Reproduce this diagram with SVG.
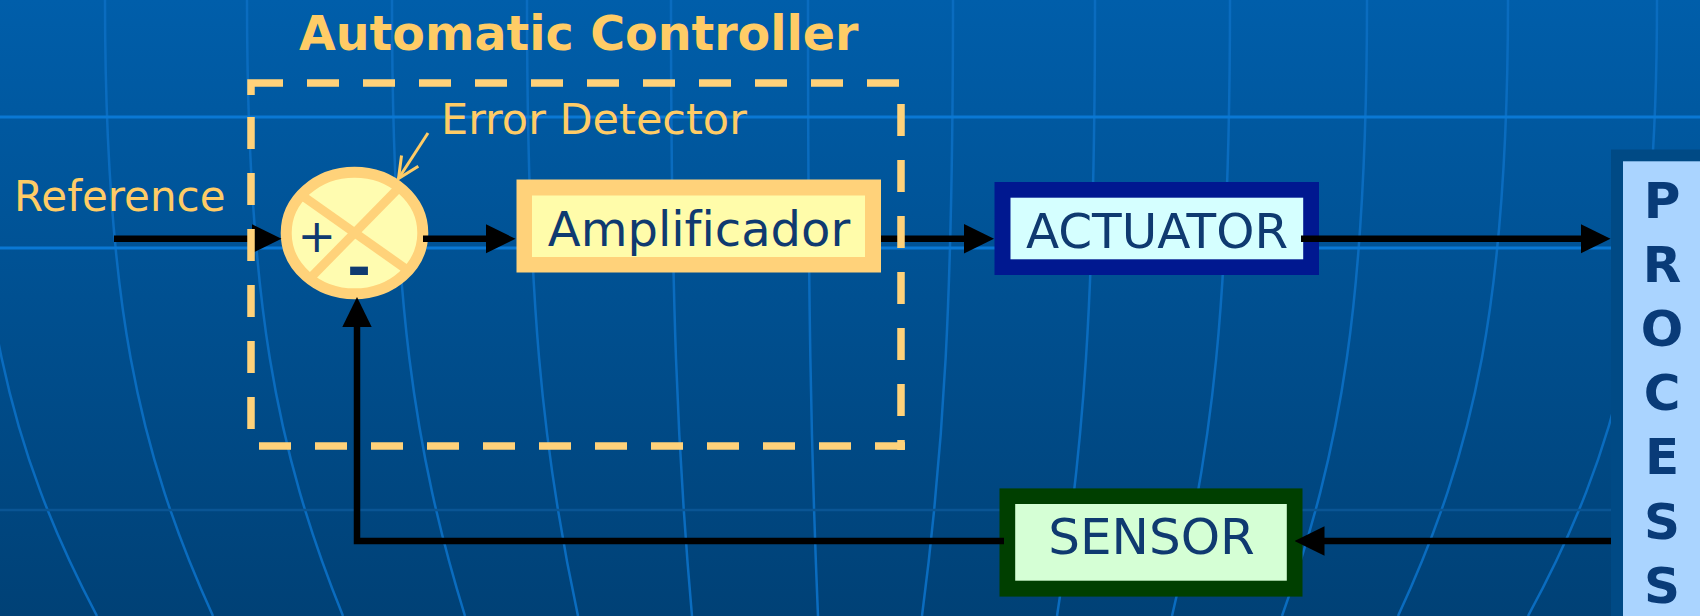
<svg xmlns="http://www.w3.org/2000/svg" width="1700" height="616" viewBox="0 0 1700 616">
  <style>
    .txt { font-family: "DejaVu Sans", Verdana, "Liberation Sans", sans-serif; font-variant-ligatures: none; }
    .gold { fill: #FFCC66; }
    .navy { fill: #0F3A70; }
    .bold { font-weight: bold; }
    .meridian { fill: none; stroke: #0A6CBF; stroke-width: 2.5; }
    .wire { fill: none; stroke: #000; stroke-width: 6.5; marker-end: url(#head); }
    .dash { fill: none; stroke: #FFD27A; stroke-width: 7.5; }
  </style>
  <defs>
    <linearGradient id="bg" x1="0" y1="0" x2="0" y2="1">
      <stop offset="0" stop-color="#005EAA"/>
      <stop offset="1" stop-color="#004176"/>
    </linearGradient>
    <marker id="head" markerUnits="userSpaceOnUse" markerWidth="30" markerHeight="30" viewBox="0 0 30 30" refX="10" refY="15" orient="auto">
      <path d="M0,0.3 L30,15 L0,29.7 Z" fill="#000"/>
    </marker>
    <marker id="openHead" markerUnits="userSpaceOnUse" markerWidth="26" markerHeight="26" viewBox="-24 -13 26 26" refX="0" refY="0" orient="auto">
      <path d="M-21,-10 L0,0 L-21,10" fill="none" stroke="#FFCC66" stroke-width="3"/>
    </marker>
    <clipPath id="junctionClip">
      <ellipse cx="354.5" cy="233" rx="68" ry="60.5"/>
    </clipPath>
  </defs>

  <!-- backdrop: gradient with globe grid -->
  <g id="background">
    <rect width="1700" height="616" fill="url(#bg)"/>
    <path class="meridian" d="M-28,0 C-28,300 9.5,450 97,616"/>
    <path class="meridian" d="M105,0 C105,300 137.4,450 213,616"/>
    <path class="meridian" d="M247,0 C247,300 275.8,450 343,616"/>
    <path class="meridian" d="M392,0 C392,300 413.9,450 465,616"/>
    <path class="meridian" d="M527,0 C527,300 542.3,450 578,616"/>
    <path class="meridian" d="M671,0 C671,300 677.3,450 692,616"/>
    <path class="meridian" d="M808,0 C808,300 811,450 818,616"/>
    <path class="meridian" d="M953,0 C953,300 943.7,450 922,616"/>
    <path class="meridian" d="M1095,0 C1095,300 1083.6,450 1057,616"/>
    <path class="meridian" d="M1230,0 C1230,300 1212.6,450 1172,616"/>
    <path class="meridian" d="M1367,0 C1367,300 1341.5,450 1282,616"/>
    <path class="meridian" d="M1508,0 C1508,300 1475,450 1398,616"/>
    <path class="meridian" d="M1657,0 C1657,300 1618.3,450 1528,616"/>
    <line x1="0" y1="117" x2="1700" y2="117" stroke="#0A78D4" stroke-width="3"/>
    <line x1="0" y1="248" x2="1700" y2="248" stroke="#0A78D4" stroke-width="3"/>
    <line x1="0" y1="510" x2="1700" y2="510" stroke="#0A5594" stroke-width="2.5"/>
  </g>

  <!-- summing junction (error detector) -->
  <g id="error-detector">
    <ellipse cx="354.5" cy="233" rx="68.3" ry="60.8" fill="#FFFCB0"/>
    <g clip-path="url(#junctionClip)" stroke="#FFD27A" stroke-width="9">
      <line x1="280" y1="180" x2="430" y2="286"/>
      <line x1="432" y1="154" x2="277" y2="312"/>
    </g>
    <ellipse cx="354.5" cy="233" rx="68.3" ry="60.8" fill="none" stroke="#FFD27A" stroke-width="11"/>
    <text class="txt navy" x="316.7" y="251.5" font-size="46" text-anchor="middle">+</text>
    <text class="txt navy bold" x="359" y="288" font-size="58" text-anchor="middle">-</text>
  </g>

  <g id="amplificador">
    <rect x="516.5" y="179.5" width="364.5" height="93" fill="#FFD27A"/>
    <rect x="532" y="195.5" width="333" height="61.5" fill="#FFFCAA"/>
    <text class="txt navy" x="699" y="246" font-size="48" text-anchor="middle">Amplificador</text>
  </g>

  <g id="actuator">
    <rect x="994.5" y="182" width="324.5" height="93" fill="#001890"/>
    <rect x="1010.5" y="197.7" width="292.7" height="61.6" fill="#D5FFFF"/>
    <text class="txt navy" x="1157" y="247.5" font-size="48.5" text-anchor="middle">ACTUATOR</text>
  </g>

  <g id="sensor">
    <rect x="999.5" y="488.4" width="303" height="108.2" fill="#003F00"/>
    <rect x="1015.2" y="504" width="271.6" height="76.7" fill="#D5FFD5"/>
    <text class="txt navy" x="1151.5" y="554" font-size="50" text-anchor="middle">SENSOR</text>
  </g>

  <g id="process">
    <rect x="1611" y="149.5" width="100" height="480" fill="#004A85"/>
    <rect x="1623" y="161.3" width="90" height="470" fill="#AAD4FF"/>
    <g class="txt bold" fill="#093B78" font-size="50" text-anchor="middle">
      <text x="1662" y="218">P</text>
      <text x="1662" y="282.1">R</text>
      <text x="1662" y="346.2">O</text>
      <text x="1662" y="410.3">C</text>
      <text x="1662" y="474.4">E</text>
      <text x="1662" y="538.5">S</text>
      <text x="1662" y="602.6">S</text>
    </g>
  </g>

  <g id="connectors">
    <path class="wire" d="M114,238.8 H261.5"/>
    <path class="wire" d="M423,238.8 H495.5"/>
    <path class="wire" d="M881,238.8 H974"/>
    <path class="wire" d="M1301,238.8 H1590.5"/>
    <path class="wire" d="M1611,541 H1314.5"/>
    <path class="wire" d="M1004,541 H357 V317"/>
  </g>

  <!-- automatic controller boundary -->
  <g id="controller-boundary">
    <path class="dash" d="M251,95 V83 H283"/>
    <line class="dash" x1="307" y1="83" x2="905" y2="83" stroke-dasharray="32 24"/>
    <line class="dash" x1="901" y1="104" x2="901" y2="450" stroke-dasharray="32 24"/>
    <line class="dash" x1="259" y1="446" x2="905" y2="446" stroke-dasharray="32 24"/>
    <line class="dash" x1="251" y1="117" x2="251" y2="430" stroke-dasharray="32 24"/>
    <text class="txt gold bold" x="299" y="50" font-size="47.5">Automatic Controller</text>
  </g>

  <g id="labels">
    <text class="txt gold" x="14" y="211" font-size="42">Reference</text>
    <text class="txt gold" x="441" y="134" font-size="43">Error Detector</text>
    <line x1="428" y1="133" x2="398.5" y2="178.5" stroke="#FFCC66" stroke-width="3" marker-end="url(#openHead)"/>
  </g>
</svg>
